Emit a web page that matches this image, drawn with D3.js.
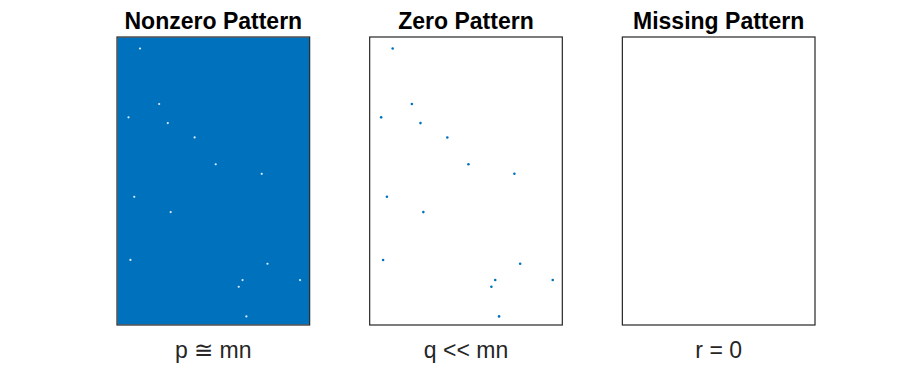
<!DOCTYPE html>
<html>
<head>
<meta charset="utf-8">
<script src="https://cdn.jsdelivr.net/npm/d3@7"></script>
<style>
  body { margin: 0; background: #fff; }
  text { font-family: "Liberation Sans", Arial, Helvetica, sans-serif; }
</style>
</head>
<body>
<div id="chart"></div>
<script>
"use strict";

// matrix size (rows x columns)
const nRows = 300;
const nCols = 200;

// positions of the zero entries (row, column)
const zeroRows = [12, 70, 84, 90, 105, 133, 143, 167, 183, 233, 237, 254, 254, 261, 292];
const zeroCols = [24, 44, 12, 53, 81, 103, 151, 18, 56, 14, 157, 191, 131, 127, 135];

const panelTitles = ["Nonzero Pattern", "Zero Pattern", "Missing Pattern"];
const panelLabels = ["p \u2245 mn", "q << mn", "r = 0"];

const blue = "#0072BD";

const W = 900, H = 375;
const svg = d3.select("#chart").append("svg")
    .attr("width", W)
    .attr("height", H);

// panel placement
const panelX = d3.scaleBand()
    .domain(d3.range(panelTitles.length))
    .range([117, 815])
    .paddingInner(0.2376);

const boxTop = 37, boxBottom = 325;

const zeros = zeroRows.map((r, i) => ({ row: r, col: zeroCols[i] }));

panelTitles.forEach((title, i) => {
    const x0 = panelX(i), bw = panelX.bandwidth();
    const x = d3.scaleLinear().domain([0, nCols + 1]).range([x0, x0 + bw]);
    const y = d3.scaleLinear().domain([0, nRows + 1]).range([boxTop, boxBottom]);

    const g = svg.append("g");

    if (i === 0) {
        // every entry is nonzero except the few zeros
        g.append("rect")
            .attr("x", x(0.5))
            .attr("y", y(0.5))
            .attr("width", x(nCols + 0.5) - x(0.5))
            .attr("height", y(nRows + 0.5) - y(0.5))
            .attr("fill", blue);
        g.selectAll("circle")
            .data(zeros)
            .enter().append("circle")
            .attr("cx", d => x(d.col))
            .attr("cy", d => y(d.row))
            .attr("r", 1.1)
            .attr("fill", "#d8ecfa");
    } else if (i === 1) {
        g.selectAll("circle")
            .data(zeros)
            .enter().append("circle")
            .attr("cx", d => x(d.col))
            .attr("cy", d => y(d.row))
            .attr("r", 1.3)
            .attr("fill", blue);
    }

    // axes box
    g.append("rect")
        .attr("x", x(0))
        .attr("y", y(0))
        .attr("width", x(nCols + 1) - x(0))
        .attr("height", y(nRows + 1) - y(0))
        .attr("fill", "none")
        .attr("stroke", "#262626")
        .attr("stroke-width", 1.2);

    g.append("text")
        .attr("x", x0 + bw / 2)
        .attr("y", 29)
        .attr("text-anchor", "middle")
        .style("font-size", "23px")
        .style("font-weight", "bold")
        .attr("fill", "#000")
        .text(title);

    g.append("text")
        .attr("x", x0 + bw / 2)
        .attr("y", 358)
        .attr("text-anchor", "middle")
        .style("font-size", "23px")
        .attr("fill", "#262626")
        .text(panelLabels[i]);
});
</script>
</body>
</html>
